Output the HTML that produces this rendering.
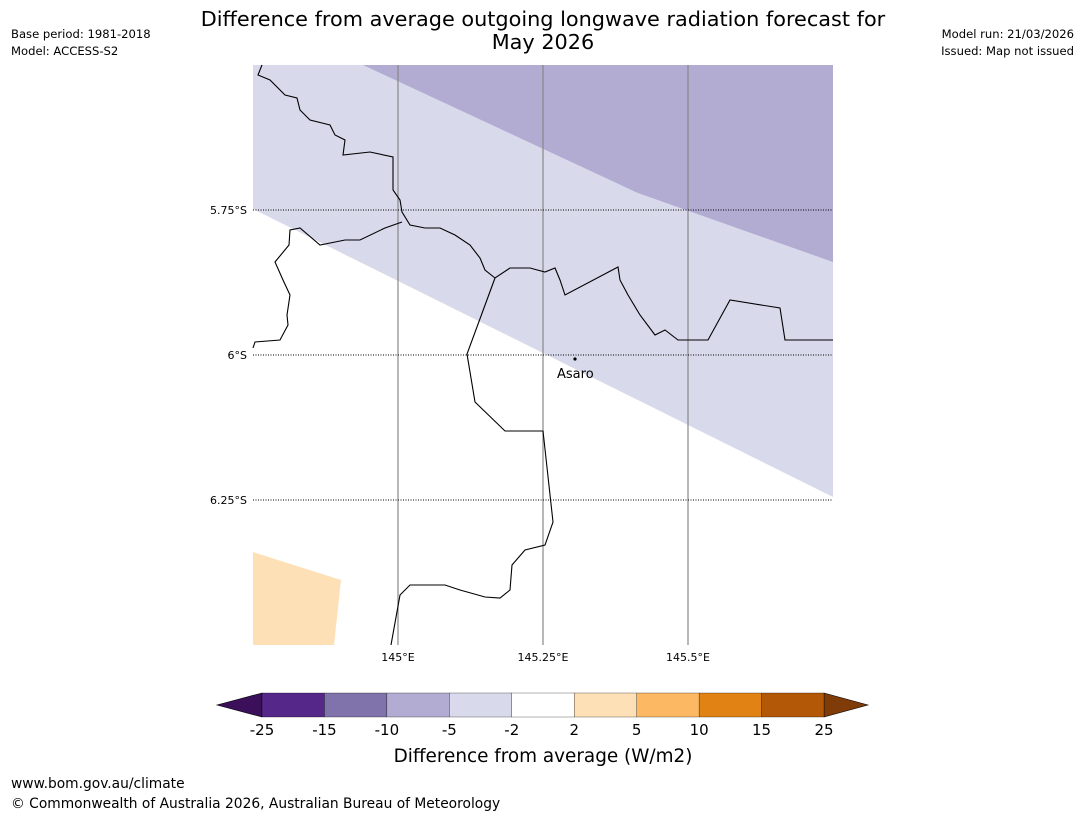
<!DOCTYPE html>
<html><head><meta charset="utf-8"><style>
body{margin:0;background:#fff;width:1085px;height:816px;overflow:hidden;font-family:"Liberation Sans","DejaVu Sans",sans-serif}
</style></head><body>
<svg width="1085" height="816" viewBox="0 0 1085 816" font-family="DejaVu Sans, Liberation Sans, sans-serif">
<text x="543" y="26" font-size="20.8" text-anchor="middle">Difference from average outgoing longwave radiation forecast for</text>
<text x="543" y="49" font-size="20.8" text-anchor="middle">May 2026</text>
<text x="11" y="38" font-size="11.6">Base period: 1981-2018</text>
<text x="11" y="55" font-size="11.6">Model: ACCESS-S2</text>
<text x="1074" y="38" font-size="11.6" text-anchor="end">Model run: 21/03/2026</text>
<text x="1074" y="55" font-size="11.6" text-anchor="end">Issued: Map not issued</text>
<g id="map"></g>
<g id="cbar"></g>
<text x="543" y="762" font-size="18.4" text-anchor="middle">Difference from average (W/m2)</text>
<text x="11" y="788" font-size="13.8">www.bom.gov.au/climate</text>
<text x="11" y="808" font-size="13.8">© Commonwealth of Australia 2026, Australian Bureau of Meteorology</text>
</svg>
<script>
const lonTicks=[145,145.25,145.5];
const lonLabels=["145°E","145.25°E","145.5°E"];
const latTicks=[5.75,6,6.25];
const latLabels=["5.75°S","6°S","6.25°S"];
const cbarBounds=[-25,-15,-10,-5,-2,2,5,10,15,25];
const cbarColors=["#542788","#8073ac","#b2abd2","#d8daeb","#ffffff","#fee0b6","#fdb863","#e08214","#b35806"];
const NS="http://www.w3.org/2000/svg";
const X0=253,X1=833,Y0=65,Y1=645,LON0=144.75,LON1=145.75,LAT0=5.5,LAT1=6.5;
const xs=l=>X0+(l-LON0)/(LON1-LON0)*(X1-X0);
const ys=l=>Y0+(l-LAT0)/(LAT1-LAT0)*(Y1-Y0);
function el(t,a,p){const e=document.createElementNS(NS,t);for(const k in a)e.setAttribute(k,a[k]);p.appendChild(e);return e;}
const map=document.getElementById('map');
let e;
e=el('polygon',{points:"253,65 363,65 833,65 833,497 253,209",fill:"#d8daeb"},map);


e=el('polygon',{points:"363,65 833,65 833,262 638,193",fill:"#b2abd2"},map);


e=el('polygon',{points:"253,552 341,580 334,645 253,645",fill:"#fee0b6"},map);


lonTicks.forEach((v,i)=>{
 e=el('line',{x1:xs(v),x2:xs(v),y1:Y0,y2:Y1,stroke:"#888","stroke-width":1.2},map);
 
 
 e=el('text',{x:xs(v),y:661,"font-size":11,"text-anchor":"middle"},map);e.textContent=lonLabels[i];
 
 
});
latTicks.forEach((v,i)=>{
 e=el('line',{x1:X0,x2:X1,y1:ys(v),y2:ys(v),stroke:"#000","stroke-width":1,"stroke-dasharray":"1,1.5"},map);
 
 
 e=el('text',{x:247,y:ys(v)+4,"font-size":11,"text-anchor":"end"},map);e.textContent=latLabels[i];
 
 
});
const coast1="262,65 258,75 270,80 285,95 297,98 300,110 310,120 330,125 335,135 345,140 343,155 370,152 393,157 393,190 400,200 402,212 410,225 425,228 440,228 455,235 470,245 480,258 485,270 495,278 510,268 530,268 545,272 555,268 560,280 565,295 618,267 620,280 628,295 640,315 655,335 665,330 678,340 708,340 730,300 780,308 785,340 833,340";
const coast2="402,222 385,228 360,240 345,240 320,245 300,228 290,230 289,245 275,262 283,280 290,295 287,315 288,325 280,340 255,342 253,348";
const border="495,278 467,354 475,402 505,431 543,431 553,522 545,545 525,550 512,565 510,590 500,598 485,597 460,590 445,585 410,585 400,595 391,645";
[coast1,coast2,border].forEach((p,i)=>{
 e=el('polyline',{points:p,fill:"none",stroke:"#000","stroke-width":1.1},map);
 
 
});
e=el('circle',{cx:575,cy:359,r:1.6,fill:"#000"},map);


e=el('text',{x:557,y:378,"font-size":13},map);e.textContent="Asaro";


const cb=document.getElementById('cbar');
const CX0=262,CX1=824,CY=693,CH=24,n=cbarColors.length,w=(CX1-CX0)/n;
e=el('polygon',{points:`${CX0},${CY} 217,${CY+CH/2} ${CX0},${CY+CH}`,fill:"#3c0f5a",stroke:"#000","stroke-width":0.6},cb);


e=el('polygon',{points:`${CX1},${CY} 868,${CY+CH/2} ${CX1},${CY+CH}`,fill:"#7f3b08",stroke:"#000","stroke-width":0.6},cb);


cbarColors.forEach((c,i)=>{
 e=el('rect',{x:CX0+i*w,y:CY,width:w,height:CH,fill:c,stroke:"#000","stroke-width":0.3},cb);
 
 
});
cbarBounds.forEach((b,i)=>{
 e=el('text',{x:CX0+i*w,y:735,"font-size":15,"text-anchor":"middle"},cb);e.textContent=String(b);
 
 
});
</script>
</body></html>
